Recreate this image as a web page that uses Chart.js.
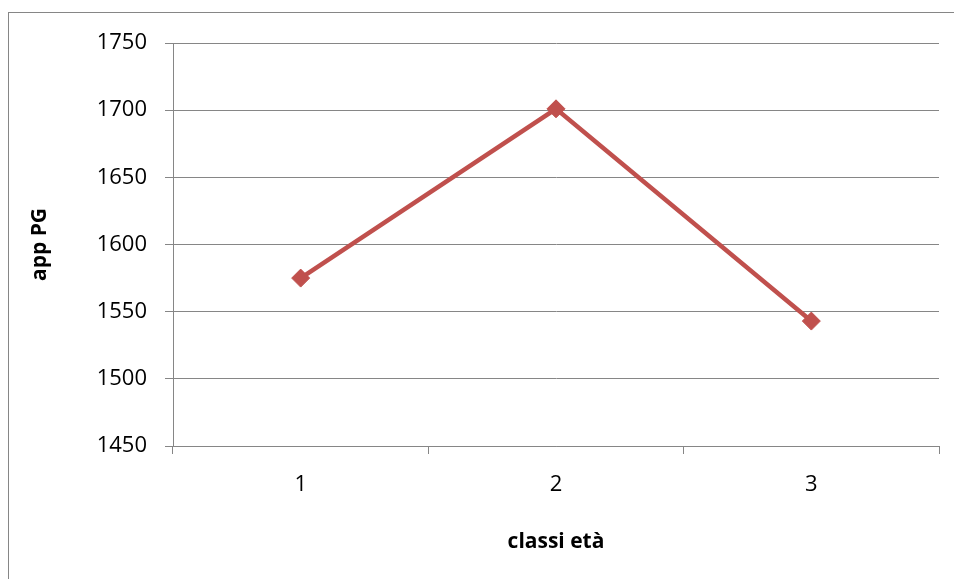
<!DOCTYPE html>
<html>
<head>
<meta charset="utf-8">
<script src="https://cdn.jsdelivr.net/npm/chart.js@4/dist/chart.umd.min.js"></script>
<style>
  html, body { margin: 0; padding: 0; background: #ffffff; }
  #wrap { width: 954px; height: 579px; position: relative; }
</style>
</head>
<body>
<div id="wrap"><canvas id="chart" width="954" height="579"></canvas></div>
<script>
// Age classes and mean "app PG" per class
const classes = ['1', '2', '3'];
const appPG = [1575, 1701, 1543];
const yTicks = [1450, 1500, 1550, 1600, 1650, 1700, 1750];

const FONT = "'Open Sans', 'Liberation Sans', sans-serif";
const GRID = '#868686';
const RED = '#C0504D';

// Light frame around the whole chart object
const framePlugin = {
  id: 'frame',
  beforeDraw(chart) {
    const ctx = chart.ctx;
    ctx.save();
    ctx.fillStyle = '#ffffff';
    ctx.fillRect(0, 0, chart.width, chart.height);
    ctx.strokeStyle = GRID;
    ctx.lineWidth = 1;
    ctx.strokeRect(8.5, 12.5, chart.width + 10, chart.height + 10);
    ctx.restore();
  }
};

new Chart(document.getElementById('chart'), {
  type: 'line',
  data: {
    labels: classes,
    datasets: [{
      data: appPG,
      borderColor: RED,
      backgroundColor: RED,
      borderWidth: 4.5,
      pointStyle: 'rectRot',
      pointRadius: 9,
      pointBorderWidth: 1,
      pointBackgroundColor: RED,
      pointBorderColor: RED,
      tension: 0,
      fill: false
    }]
  },
  options: {
    responsive: false,
    animation: false,
    devicePixelRatio: 1,
    layout: { padding: { left: 0, top: 43, right: 15, bottom: 0 } },
    plugins: { legend: { display: false }, tooltip: { enabled: false } },
    scales: {
      x: {
        type: 'category',
        offset: true,
        afterFit(scale) { scale.height = 133; },
        grid: {
          offset: true,
          drawOnChartArea: false,
          drawTicks: true,
          tickLength: 8,
          color: GRID,
          lineWidth: 1
        },
        border: { display: true, color: GRID, width: 1 },
        ticks: {
          color: '#000000',
          font: { family: FONT, size: 22 },
          padding: 18
        },
        title: {
          display: true,
          text: 'classi età',
          color: '#000000',
          font: { family: FONT, size: 21, weight: 'bold' },
          padding: { top: 0, bottom: 24 }
        }
      },
      y: {
        min: 1450,
        max: 1750,
        afterFit(scale) { scale.width = 173; },
        afterBuildTicks(scale) { scale.ticks = yTicks.map(v => ({ value: v })); },
        grid: {
          color: GRID,
          lineWidth: 1,
          drawTicks: true,
          tickLength: 8
        },
        border: { display: true, color: GRID, width: 1 },
        ticks: {
          color: '#000000',
          font: { family: FONT, size: 22 },
          padding: 18,
          callback: (v) => String(v)
        },
        title: {
          display: true,
          text: 'app PG',
          color: '#000000',
          font: { family: FONT, size: 21, weight: 'bold' },
          padding: { top: 27, bottom: 0 }
        }
      }
    }
  },
  plugins: [framePlugin]
});
</script>
</body>
</html>
